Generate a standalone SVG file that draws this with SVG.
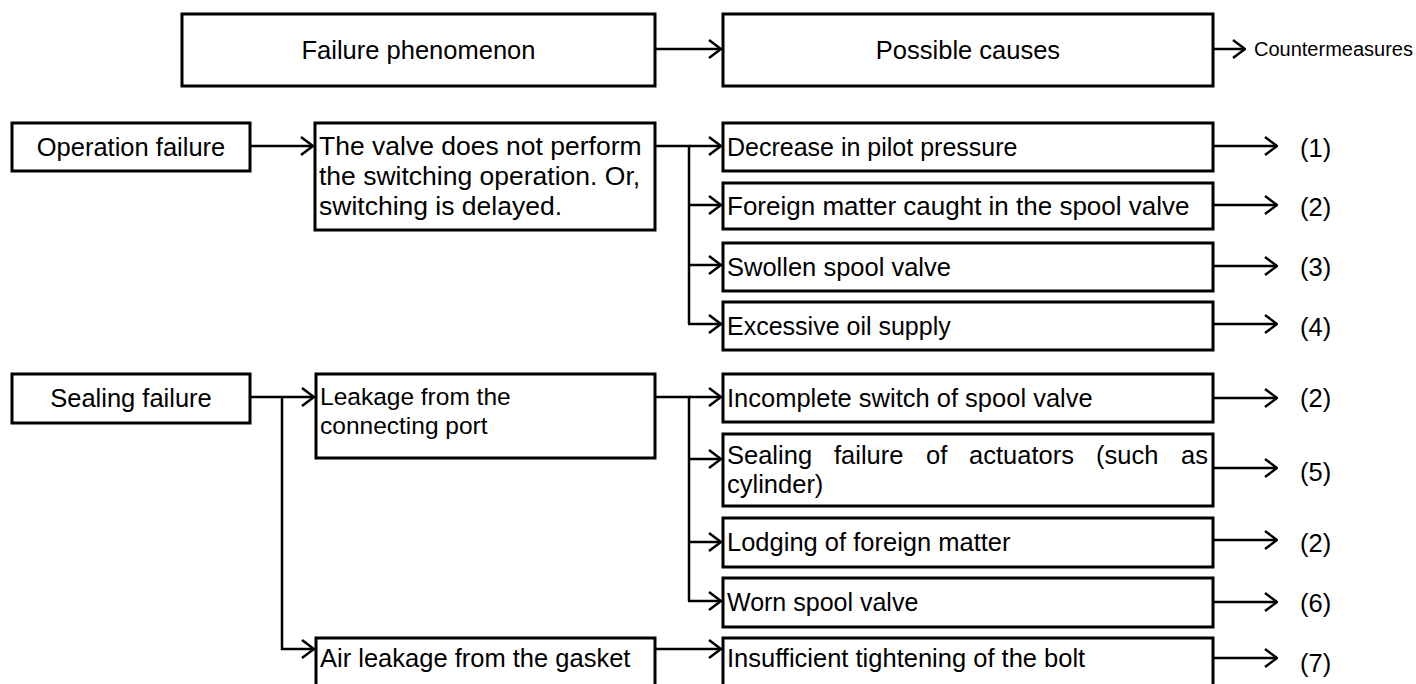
<svg xmlns="http://www.w3.org/2000/svg" width="1416" height="684" viewBox="0 0 1416 684">
<style>
.box{fill:#fff;stroke:#000;stroke-width:3}
.t{font-family:"Liberation Sans",Arial,sans-serif;font-size:25.5px;fill:#000}
.m{text-anchor:middle}
.s{font-size:20px}
.c{stroke:#000;stroke-width:2.5;fill:none}
</style>
<defs>
<marker id="ah" viewBox="0 0 14 20" refX="13" refY="10" markerWidth="14" markerHeight="20" markerUnits="userSpaceOnUse" orient="auto">
<path d="M1,1 L13,10 L1,19" fill="none" stroke="#000" stroke-width="2.5"/>
</marker>
</defs>
<rect width="1416" height="684" fill="#fff"/>
<g id="connectors">
<path class="c" d="M655,49 H721" marker-end="url(#ah)"/>
<path class="c" d="M1213,49 H1245" marker-end="url(#ah)"/>
<path class="c" d="M250,146 H313" marker-end="url(#ah)"/>
<path class="c" d="M655,146 H689 V324"/>
<path class="c" d="M689,146 H721" marker-end="url(#ah)"/>
<path class="c" d="M689,205 H721" marker-end="url(#ah)"/>
<path class="c" d="M689,265 H721" marker-end="url(#ah)"/>
<path class="c" d="M688,324 H721" marker-end="url(#ah)"/>
<path class="c" d="M1213,146 H1277" marker-end="url(#ah)"/>
<path class="c" d="M1213,205 H1277" marker-end="url(#ah)"/>
<path class="c" d="M1213,266 H1277" marker-end="url(#ah)"/>
<path class="c" d="M1213,324 H1277" marker-end="url(#ah)"/>
<path class="c" d="M250,397 H314" marker-end="url(#ah)"/>
<path class="c" d="M282,397 V649 H314" marker-end="url(#ah)"/>
<path class="c" d="M655,397 H689 V601"/>
<path class="c" d="M689,397 H721" marker-end="url(#ah)"/>
<path class="c" d="M689,459 H721" marker-end="url(#ah)"/>
<path class="c" d="M689,542 H721" marker-end="url(#ah)"/>
<path class="c" d="M688,601 H721" marker-end="url(#ah)"/>
<path class="c" d="M655,649 H721" marker-end="url(#ah)"/>
<path class="c" d="M1213,398 H1277" marker-end="url(#ah)"/>
<path class="c" d="M1213,468 H1277" marker-end="url(#ah)"/>
<path class="c" d="M1213,540 H1277" marker-end="url(#ah)"/>
<path class="c" d="M1213,602 H1277" marker-end="url(#ah)"/>
<path class="c" d="M1213,658 H1277" marker-end="url(#ah)"/>
</g>
<g id="hdr-phenomenon"><rect class="box" x="182" y="14" width="473" height="72"/><text class="t m" x="418.5" y="59">Failure phenomenon</text></g>
<g id="hdr-causes"><rect class="box" x="723" y="14" width="490" height="72"/><text class="t m" x="968" y="59">Possible causes</text></g>
<g id="hdr-countermeasures"><text class="t s" x="1254" y="56">Countermeasures</text></g>
<g id="operation-failure"><rect class="box" x="12" y="123" width="238" height="48"/><text class="t m" x="131" y="156">Operation failure</text></g>
<g id="valve-no-switch"><rect class="box" x="315" y="123" width="340" height="107"/><text class="t" style="font-size:26.5px"><tspan x="319" y="155">The valve does not perform</tspan><tspan x="319" y="185">the switching operation. Or,</tspan><tspan x="319" y="215">switching is delayed.</tspan></text></g>
<g id="cause-pilot"><rect class="box" x="723" y="123" width="490" height="48"/><text class="t" x="727" y="156" style="font-size:25px">Decrease in pilot pressure</text></g>
<g id="cause-foreign"><rect class="box" x="723" y="183" width="490" height="46"/><text class="t" x="727" y="215" style="font-size:26px">Foreign matter caught in the spool valve</text></g>
<g id="cause-swollen"><rect class="box" x="723" y="243" width="490" height="48"/><text class="t" x="727" y="276">Swollen spool valve</text></g>
<g id="cause-oil"><rect class="box" x="723" y="302" width="490" height="48"/><text class="t" x="727" y="335" style="font-size:25px">Excessive oil supply</text></g>
<g id="cm-1"><text class="t" x="1300" y="157">(1)</text></g>
<g id="cm-2a"><text class="t" x="1300" y="216">(2)</text></g>
<g id="cm-3"><text class="t" x="1300" y="276">(3)</text></g>
<g id="cm-4"><text class="t" x="1300" y="336">(4)</text></g>
<g id="sealing-failure"><rect class="box" x="12" y="374" width="238" height="49"/><text class="t m" x="131" y="407">Sealing failure</text></g>
<g id="leak-port"><rect class="box" x="316" y="374" width="339" height="84"/><text class="t" style="font-size:24.5px"><tspan x="320" y="405">Leakage from the</tspan><tspan x="320" y="434">connecting port</tspan></text></g>
<g id="air-leak"><rect class="box" x="316" y="638" width="339" height="60"/><text class="t" x="320" y="667">Air leakage from the gasket</text></g>
<g id="cause-incomplete"><rect class="box" x="723" y="374" width="490" height="48"/><text class="t" x="727" y="407">Incomplete switch of spool valve</text></g>
<g id="cause-actuator"><rect class="box" x="723" y="434" width="490" height="72"/><text class="t"><tspan x="727" y="464">Sealing</tspan><tspan x="834" y="464">failure</tspan><tspan x="926" y="464">of</tspan><tspan x="969" y="464">actuators</tspan><tspan x="1096" y="464">(such</tspan><tspan x="1181" y="464">as</tspan><tspan x="727" y="493">cylinder)</tspan></text></g>
<g id="cause-lodging"><rect class="box" x="723" y="518" width="490" height="49"/><text class="t" x="727" y="551">Lodging of foreign matter</text></g>
<g id="cause-worn"><rect class="box" x="723" y="578" width="490" height="49"/><text class="t" x="727" y="611" style="font-size:25px">Worn spool valve</text></g>
<g id="cause-bolt"><rect class="box" x="723" y="638" width="490" height="60"/><text class="t" x="727" y="667">Insufficient tightening of the bolt</text></g>
<g id="cm-2b"><text class="t" x="1300" y="407">(2)</text></g>
<g id="cm-5"><text class="t" x="1300" y="481">(5)</text></g>
<g id="cm-2c"><text class="t" x="1300" y="552">(2)</text></g>
<g id="cm-6"><text class="t" x="1300" y="612">(6)</text></g>
<g id="cm-7"><text class="t" x="1300" y="672">(7)</text></g>
</svg>
